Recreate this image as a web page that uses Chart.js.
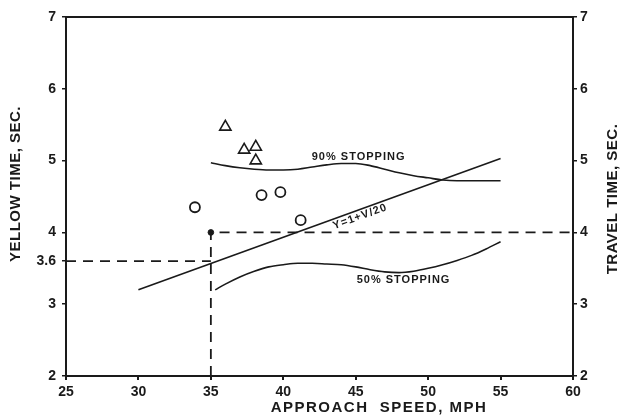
<!DOCTYPE html>
<html>
<head>
<meta charset="utf-8">
<script src="https://cdn.jsdelivr.net/npm/chart.js@4/dist/chart.umd.min.js"></script>
<style>
  html, body { margin: 0; padding: 0; background: #ffffff; }
  #wrap { width: 621px; height: 420px; position: relative; }
</style>
</head>
<body>
<div id="wrap"><canvas id="c" width="621" height="420"></canvas></div>
<script>
// ---- data ----
const xTicks = [25, 30, 35, 40, 45, 50, 55, 60];
const yTicksLeft = [2, 3, 3.6, 4, 5, 6, 7];
const yTicksRight = [2, 3, 4, 5, 6, 7];

const circlesX = [33.9, 38.5, 39.8, 41.2];
const circlesY = [4.35, 4.52, 4.56, 4.17];

const trianglesX = [36.0, 37.3, 38.1, 38.1];
const trianglesY = [5.47, 5.15, 5.19, 5.00];

const formulaX = [30, 55];
const formulaY = [3.20, 5.03];

const stop90X = [35, 36, 37, 38, 39, 40, 41, 42, 43, 44, 45, 46, 47, 48, 49, 50, 51, 52, 53, 54, 55];
const stop90Y = [4.97, 4.93, 4.90, 4.88, 4.87, 4.87, 4.88, 4.91, 4.94, 4.96, 4.96, 4.93, 4.88, 4.83, 4.79, 4.76, 4.73, 4.72, 4.72, 4.72, 4.72];

const stop50X = [35.3, 36, 37, 38, 39, 40, 41, 42, 43, 44, 45, 46, 47, 48, 49, 50, 51, 52, 53, 54, 55];
const stop50Y = [3.20, 3.28, 3.38, 3.46, 3.52, 3.55, 3.57, 3.57, 3.56, 3.55, 3.52, 3.48, 3.45, 3.44, 3.46, 3.50, 3.55, 3.61, 3.68, 3.77, 3.87];

const guide36X = [25, 35];
const guide36Y = [3.6, 3.6];
const guideVX = [35, 35];
const guideVY = [2, 4];
const guide4X = [35.6, 60];
const guide4Y = [4, 4];
const markX = [35];
const markY = [4];

const annotations = [
  { text: '90% STOPPING', x: 45.2, y: 5.05, angle: 0 },
  { text: '50% STOPPING', x: 48.3, y: 3.34, angle: 0 },
  { text: 'Y=1+V/20', x: 45.3, y: 4.22, angle: -20 }
];

const xTitle = 'APPROACH  SPEED, MPH';
const yTitle = 'YELLOW TIME, SEC.';
const y2Title = 'TRAVEL TIME, SEC.';

// ---- helpers ----
const pts = (xs, ys) => xs.map((x, i) => ({ x: x, y: ys[i] }));
const INK = '#1a1a1a';
const FONT = "'Liberation Sans', Arial, Helvetica, sans-serif";

const lineDs = (xs, ys, extra) => Object.assign({
  data: pts(xs, ys), showLine: true, pointRadius: 0, borderColor: INK,
  borderWidth: 1.6, fill: false
}, extra || {});

const textPlugin = {
  id: 'texts',
  afterDraw(chart) {
    const ctx = chart.ctx;
    const xs = chart.scales.x, ys = chart.scales.y;
    const ca = chart.chartArea;
    ctx.save();
    // top frame line
    ctx.strokeStyle = INK;
    ctx.lineWidth = 2;
    ctx.beginPath();
    ctx.moveTo(ca.left - 1, ca.top);
    ctx.lineTo(ca.right + 1, ca.top);
    ctx.stroke();

    ctx.fillStyle = INK;
    ctx.textAlign = 'center';
    ctx.textBaseline = 'middle';
    // in-plot annotations
    ctx.font = 'bold 11px ' + FONT;
    ctx.letterSpacing = '1px';
    annotations.forEach(a => {
      const px = xs.getPixelForValue(a.x), py = ys.getPixelForValue(a.y);
      ctx.save();
      ctx.translate(px, py);
      ctx.rotate(a.angle * Math.PI / 180);
      ctx.fillText(a.text, 0, 0);
      ctx.restore();
    });
    // axis titles
    ctx.font = 'bold 15px ' + FONT;
    ctx.letterSpacing = '1.5px';
    ctx.fillText(xTitle, 379, 408);
    ctx.letterSpacing = '0.5px';
    ctx.save();
    ctx.translate(16, 184);
    ctx.rotate(-Math.PI / 2);
    ctx.fillText(yTitle, 0, 0);
    ctx.restore();
    ctx.save();
    ctx.translate(613, 199);
    ctx.rotate(-Math.PI / 2);
    ctx.fillText(y2Title, 0, 0);
    ctx.restore();
    ctx.restore();
  }
};

const tickFont = { family: FONT, size: 14, weight: 'bold' };
const plainLabel = v => String(v);

new Chart(document.getElementById('c'), {
  type: 'scatter',
  data: {
    datasets: [
      lineDs(formulaX, formulaY),
      lineDs(stop90X, stop90Y, { cubicInterpolationMode: 'monotone' }),
      lineDs(stop50X, stop50Y, { cubicInterpolationMode: 'monotone' }),
      lineDs(guide36X, guide36Y, { borderDash: [10, 7], borderWidth: 1.8 }),
      lineDs(guideVX, guideVY, { borderDash: [10, 7], borderWidth: 1.8 }),
      lineDs(guide4X, guide4Y, { borderDash: [10, 7], borderWidth: 1.8 }),
      { data: pts(markX, markY), pointRadius: 2.8, pointBackgroundColor: INK, pointBorderColor: INK, showLine: false },
      { data: pts(circlesX, circlesY), pointStyle: 'circle', pointRadius: 5, pointBorderWidth: 1.8,
        pointBorderColor: INK, pointBackgroundColor: 'rgba(0,0,0,0)', showLine: false },
      { data: pts(trianglesX, trianglesY), pointStyle: 'triangle', pointRadius: 6.5, pointBorderWidth: 1.6,
        pointBorderColor: INK, pointBackgroundColor: 'rgba(0,0,0,0)', showLine: false }
    ]
  },
  options: {
    responsive: false,
    animation: false,
    devicePixelRatio: 1,
    layout: { padding: { top: 17, left: 0, right: 0, bottom: 0 } },
    plugins: { legend: { display: false }, tooltip: { enabled: false } },
    elements: { line: { tension: 0 } },
    scales: {
      x: {
        type: 'linear', min: 25, max: 60,
        afterBuildTicks: s => { s.ticks = xTicks.map(v => ({ value: v })); },
        afterFit: s => { s.height = 44; },
        grid: { drawOnChartArea: false, drawTicks: true, tickLength: 4, color: INK, lineWidth: 2 },
        border: { display: true, color: INK, width: 2 },
        ticks: { color: INK, font: tickFont, padding: 4, maxRotation: 0, callback: plainLabel }
      },
      y: {
        type: 'linear', position: 'left', min: 2, max: 7,
        afterBuildTicks: s => { s.ticks = yTicksLeft.map(v => ({ value: v })); },
        afterFit: s => { s.width = 66; },
        grid: { drawOnChartArea: false, drawTicks: true, tickLength: 4, color: INK, lineWidth: 1.5 },
        border: { display: true, color: INK, width: 2 },
        ticks: { color: INK, font: tickFont, padding: 6, callback: plainLabel }
      },
      y2: {
        type: 'linear', position: 'right', min: 2, max: 7,
        afterBuildTicks: s => { s.ticks = yTicksRight.map(v => ({ value: v })); },
        afterFit: s => { s.width = 48; },
        grid: { drawOnChartArea: false, drawTicks: true, tickLength: 4, color: INK, lineWidth: 1.5 },
        border: { display: true, color: INK, width: 2 },
        ticks: { color: INK, font: tickFont, padding: 3, callback: plainLabel }
      }
    }
  },
  plugins: [textPlugin]
});
</script>
</body>
</html>
